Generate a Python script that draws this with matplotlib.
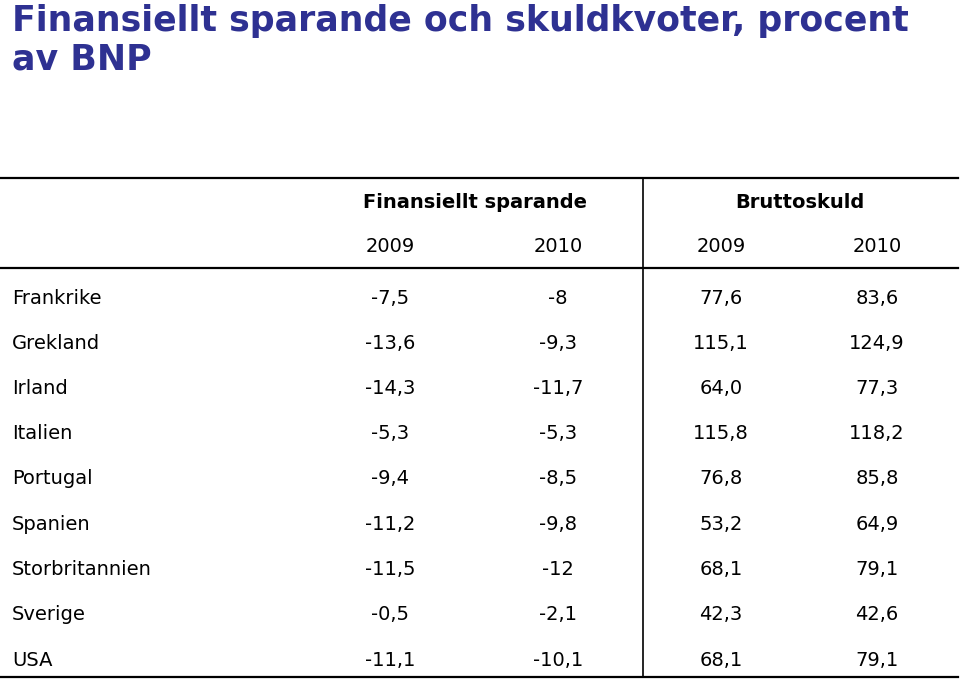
import matplotlib.pyplot as plt

plt.rcParams['font.family'] = ['DejaVu Sans']

title = 'Finansiellt sparande och skuldkvoter, procent\nav BNP'
group_labels = ['Finansiellt sparande', 'Bruttoskuld']
years = ['2009', '2010', '2009', '2010']
countries = ['Frankrike', 'Grekland', 'Irland', 'Italien', 'Portugal',
             'Spanien', 'Storbritannien', 'Sverige', 'USA']
sparande_2009 = ['-7,5', '-13,6', '-14,3', '-5,3', '-9,4', '-11,2', '-11,5', '-0,5', '-11,1']
sparande_2010 = ['-8', '-9,3', '-11,7', '-5,3', '-8,5', '-9,8', '-12', '-2,1', '-10,1']
skuld_2009 = ['77,6', '115,1', '64,0', '115,8', '76,8', '53,2', '68,1', '42,3', '68,1']
skuld_2010 = ['83,6', '124,9', '77,3', '118,2', '85,8', '64,9', '79,1', '42,6', '79,1']

W, H = 960, 680
fig = plt.figure(figsize=(W / 100, H / 100), dpi=100)
ax = fig.add_axes([0, 0, 1, 1])
ax.set_xlim(0, W)
ax.set_ylim(H, 0)
ax.axis('off')

# titel
ax.text(12, 4, title, color='#2E3192', fontsize=25, fontweight='bold',
        va='top', ha='left', linespacing=1.15)

# linjer
ax.plot([0, 958], [178, 178], color='black', lw=1.6)
ax.plot([0, 958], [268, 268], color='black', lw=1.6)
ax.plot([0, 958], [677, 677], color='black', lw=1.6)
ax.plot([643, 643], [178, 677], color='black', lw=1.2)

# rubriker
ax.text(475, 202, group_labels[0], fontsize=14, fontweight='bold', ha='center', va='center')
ax.text(800, 202, group_labels[1], fontsize=14, fontweight='bold', ha='center', va='center')
col_x = [390, 558, 721, 877]
for x, yr in zip(col_x, years):
    ax.text(x, 247, yr, fontsize=14, ha='center', va='center')

cols = [sparande_2009, sparande_2010, skuld_2009, skuld_2010]
row_y0, row_dy = 298, 45.25
for i, c in enumerate(countries):
    y = row_y0 + i * row_dy
    ax.text(12, y, c, fontsize=14, ha='left', va='center')
    for x, vals in zip(col_x, cols):
        ax.text(x, y, vals[i], fontsize=14, ha='center', va='center')

fig.savefig('out.png', dpi=100)
